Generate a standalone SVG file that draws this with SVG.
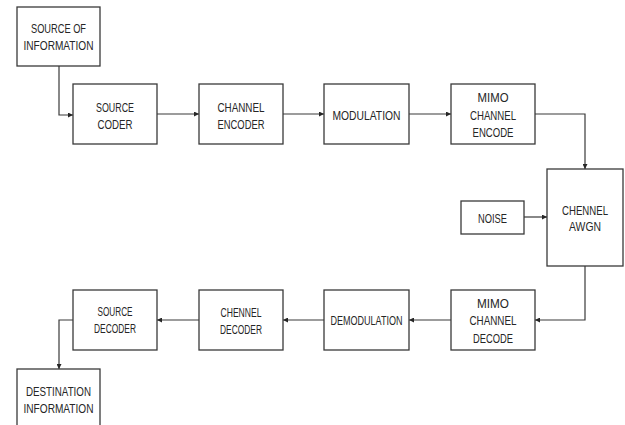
<svg xmlns="http://www.w3.org/2000/svg" width="625" height="425" viewBox="0 0 625 425">
  <style>
    .box { fill: #ffffff; stroke: #3a3a3a; stroke-width: 1.3; }
    .lbl { font-family: "Liberation Sans", Arial, sans-serif; font-size: 13px; fill: #262626; text-anchor: middle; }
    .sm { font-size: 12px; }
    .wire { fill: none; stroke: #3a3a3a; stroke-width: 1.2; }
  </style>
  <defs>
    <marker id="arrow" viewBox="0 0 6 6" refX="6" refY="3" markerWidth="5" markerHeight="5" markerUnits="userSpaceOnUse" orient="auto">
      <path d="M0,0 L6,3 L0,6 Z" fill="#262626"/>
    </marker>
  </defs>
  <rect width="625" height="425" fill="#ffffff"/>

  <!-- connectors -->
  <g id="connectors">
    <path class="wire" d="M59,66 V115 H73" marker-end="url(#arrow)"/>
    <path class="wire" d="M157,114 H199" marker-end="url(#arrow)"/>
    <path class="wire" d="M283,114 H324" marker-end="url(#arrow)"/>
    <path class="wire" d="M409,114 H451" marker-end="url(#arrow)"/>
    <path class="wire" d="M535,114 H585 V169" marker-end="url(#arrow)"/>
    <path class="wire" d="M524,217 H547" marker-end="url(#arrow)"/>
    <path class="wire" d="M585,266 V320 H535" marker-end="url(#arrow)"/>
    <path class="wire" d="M451,320 H409" marker-end="url(#arrow)"/>
    <path class="wire" d="M324,320 H283" marker-end="url(#arrow)"/>
    <path class="wire" d="M199,320 H157" marker-end="url(#arrow)"/>
    <path class="wire" d="M73,320 H59 V369" marker-end="url(#arrow)"/>
  </g>

  <g id="source-of-information">
    <rect class="box" x="17" y="7" width="83" height="59"/>
    <text class="lbl" x="58.5" y="33" textLength="55" lengthAdjust="spacingAndGlyphs">SOURCE OF</text>
    <text class="lbl" x="58.5" y="50" textLength="70" lengthAdjust="spacingAndGlyphs">INFORMATION</text>
  </g>

  <g id="source-coder">
    <rect class="box" x="73" y="84" width="84" height="60"/>
    <text class="lbl" x="115" y="112" textLength="38" lengthAdjust="spacingAndGlyphs">SOURCE</text>
    <text class="lbl" x="115" y="129" textLength="35" lengthAdjust="spacingAndGlyphs">CODER</text>
  </g>

  <g id="channel-encoder">
    <rect class="box" x="199" y="84" width="84" height="60"/>
    <text class="lbl" x="241" y="112" textLength="47" lengthAdjust="spacingAndGlyphs">CHANNEL</text>
    <text class="lbl" x="241" y="129" textLength="47" lengthAdjust="spacingAndGlyphs">ENCODER</text>
  </g>

  <g id="modulation">
    <rect class="box" x="324" y="84" width="85" height="60"/>
    <text class="lbl" x="366.5" y="120" textLength="68" lengthAdjust="spacingAndGlyphs">MODULATION</text>
  </g>

  <g id="mimo-channel-encode">
    <rect class="box" x="451" y="84" width="84" height="60"/>
    <text class="lbl" x="493" y="102" textLength="31" lengthAdjust="spacingAndGlyphs">MIMO</text>
    <text class="lbl" x="493" y="120" textLength="46" lengthAdjust="spacingAndGlyphs">CHANNEL</text>
    <text class="lbl" x="493" y="137" textLength="41" lengthAdjust="spacingAndGlyphs">ENCODE</text>
  </g>

  <g id="channel-awgn">
    <rect class="box" x="547" y="169" width="76" height="97"/>
    <text class="lbl" x="585" y="215" textLength="46" lengthAdjust="spacingAndGlyphs">CHENNEL</text>
    <text class="lbl" x="585" y="231" textLength="32" lengthAdjust="spacingAndGlyphs">AWGN</text>
  </g>

  <g id="noise">
    <rect class="box" x="461" y="201" width="63" height="33"/>
    <text class="lbl" x="492.5" y="223" textLength="29" lengthAdjust="spacingAndGlyphs">NOISE</text>
  </g>

  <g id="mimo-channel-decode">
    <rect class="box" x="451" y="290" width="84" height="60"/>
    <text class="lbl" x="493" y="308" textLength="32" lengthAdjust="spacingAndGlyphs">MIMO</text>
    <text class="lbl" x="493" y="325" textLength="47" lengthAdjust="spacingAndGlyphs">CHANNEL</text>
    <text class="lbl" x="493" y="343" textLength="40" lengthAdjust="spacingAndGlyphs">DECODE</text>
  </g>

  <g id="demodulation">
    <rect class="box" x="324" y="290" width="85" height="60"/>
    <text class="lbl sm" x="366.5" y="325" textLength="72" lengthAdjust="spacingAndGlyphs">DEMODULATION</text>
  </g>

  <g id="channel-decoder">
    <rect class="box" x="199" y="290" width="84" height="60"/>
    <text class="lbl sm" x="241" y="317" textLength="41" lengthAdjust="spacingAndGlyphs">CHENNEL</text>
    <text class="lbl sm" x="241" y="334" textLength="42" lengthAdjust="spacingAndGlyphs">DECODER</text>
  </g>

  <g id="source-decoder">
    <rect class="box" x="73" y="290" width="84" height="60"/>
    <text class="lbl sm" x="115" y="316" textLength="35" lengthAdjust="spacingAndGlyphs">SOURCE</text>
    <text class="lbl sm" x="115" y="333" textLength="42" lengthAdjust="spacingAndGlyphs">DECODER</text>
  </g>

  <g id="destination-information">
    <rect class="box" x="17" y="369" width="83" height="70"/>
    <text class="lbl" x="58.5" y="396" textLength="65" lengthAdjust="spacingAndGlyphs">DESTINATION</text>
    <text class="lbl" x="58.5" y="413" textLength="70" lengthAdjust="spacingAndGlyphs">INFORMATION</text>
  </g>
</svg>
